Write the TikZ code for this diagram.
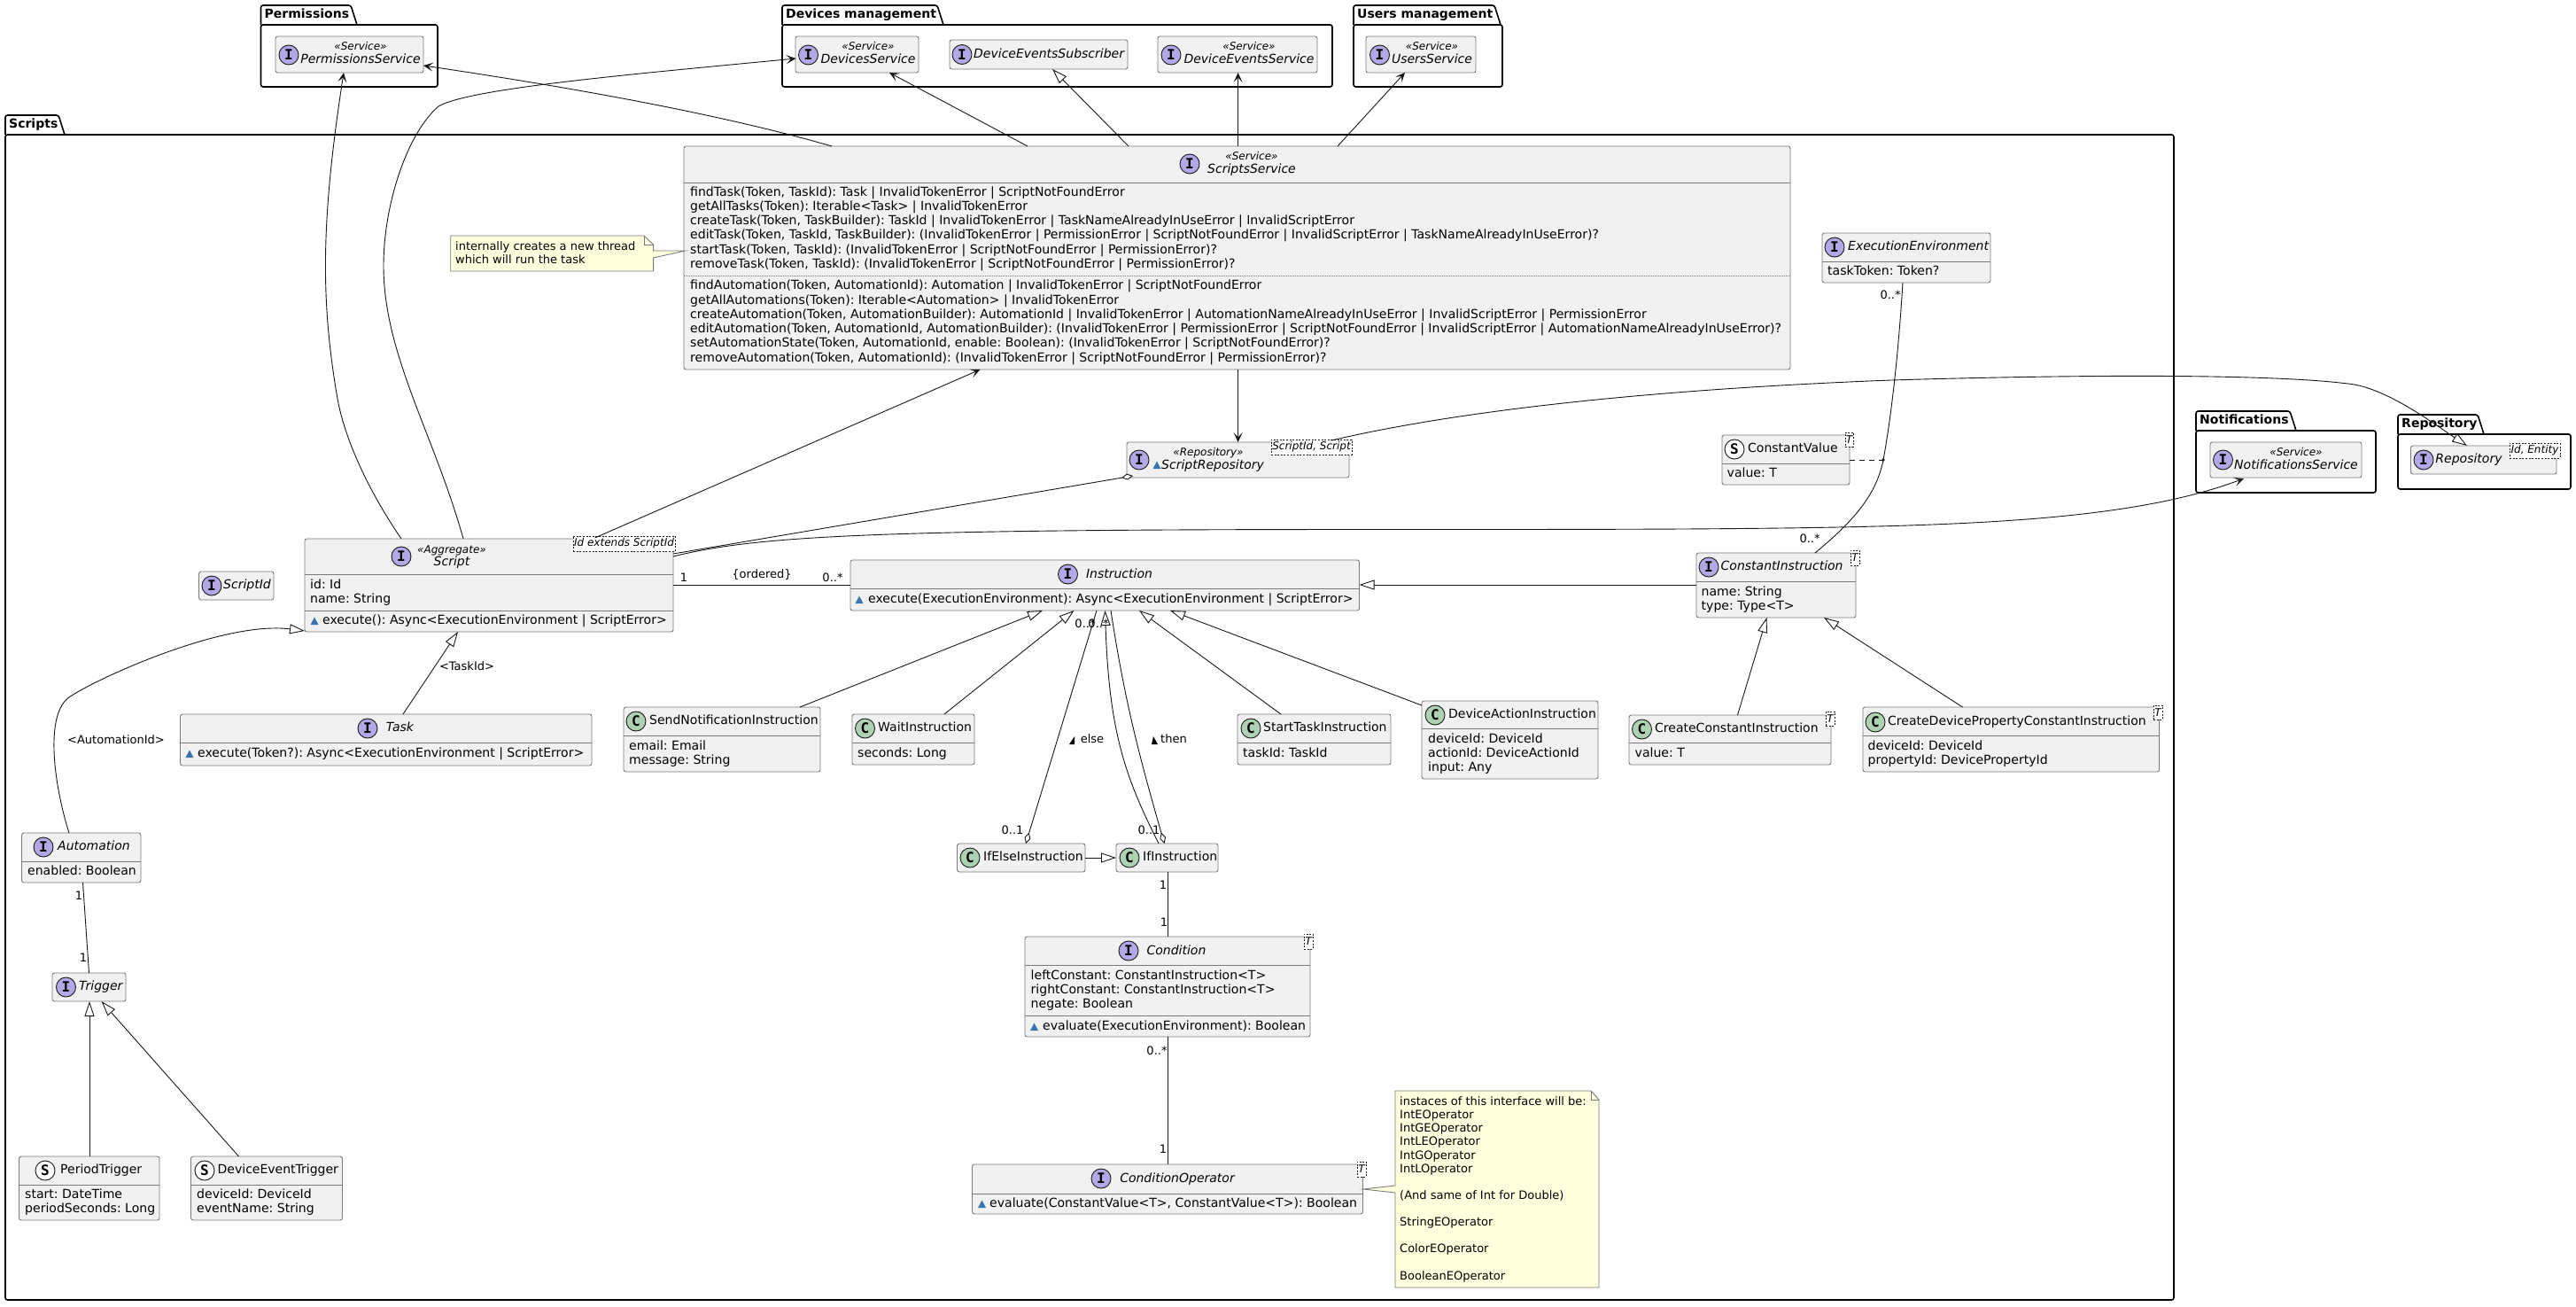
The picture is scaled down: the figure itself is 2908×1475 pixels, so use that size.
\documentclass[tikz,border=0pt]{standalone}
\usepackage{fontspec}
\setmainfont{DejaVu Sans}
\newfontfamily\iconfont{DejaVu Sans Mono}[BoldFont={DejaVu Sans Mono Bold}]
\usetikzlibrary{arrows.meta,calc}
\frenchspacing
\definecolor{boxf}{HTML}{F1F1F1}
\definecolor{boxc}{HTML}{7A7A7A}
\definecolor{linec}{HTML}{181818}
\definecolor{notef}{HTML}{FEFFDD}
\definecolor{ifill}{HTML}{B4A7E5}
\definecolor{cfill}{HTML}{ADD1B2}
\definecolor{visf}{HTML}{3A74B0}
\newcommand\fs[1]{\fontsize{#1}{#1}\selectfont}
\tikzset{
  x=1pt,y=-1pt,
  umlbox/.style={draw=boxc,fill=boxf,line width=.9pt,rounded corners=2.5pt,inner sep=0,outer sep=0,anchor=north west},
  notebox/.style={draw=boxc,fill=notef,line width=.9pt},
  genbox/.style={draw=linec,fill=white,line width=.7pt,dash pattern=on 2pt off 1.6pt,inner sep=0,outer sep=0,anchor=north west,font=\fs{12}\itshape},
  iconb/.style={circle,draw=linec,line width=.9pt,minimum size=22pt,inner sep=0,font=\iconfont\bfseries\fs{16}},
  member/.style={anchor=west,inner sep=0,text height=10pt,text depth=3pt,font=\fs{14.05}},
  notetxt/.style={member,font=\fs{13}},
  head/.style={anchor=center,inner sep=0,text height=10pt,text depth=3pt,font=\fs{14}\itshape},
  headl/.style={head,anchor=west},
  plainhead/.style={anchor=west,inner sep=0,text height=10pt,text depth=3pt,font=\fs{14}},
  stereo/.style={anchor=center,inner sep=0,text height=9pt,text depth=2.5pt,font=\fs{12}\itshape},
  lab/.style={anchor=center,inner sep=0,text height=9.5pt,text depth=2.5pt,font=\fs{13}},
  pkgline/.style={draw=black,line width=1.6pt,rounded corners=2.5pt},
  pkgt/.style={anchor=west,inner sep=0,text height=10pt,text depth=3pt,font=\fs{14}\bfseries},
  sepline/.style={draw=boxc,line width=.9pt},
  plainc/.style={draw=linec,line width=.9pt},
  assoc/.style={plainc,-{Stealth[length=11pt,width=10pt,inset=5.5pt]}},
  gener/.style={plainc,-{Triangle[open,fill=white,length=17pt,width=11pt]}},
  aggr/.style={plainc,-{Diamond[open,fill=white,length=13pt,width=7pt]}},
}
\newcount\tc
\newcommand\ubox[5]{\node[umlbox,minimum width={(#4-#2)*1pt},minimum height={(#5-#3)*1pt}] (#1) at (#2,#3) {};}
\newcommand\gen[6]{\node[genbox,minimum width={(#4-#2)*1pt},minimum height={(#5-#3)*1pt}] (#1) at (#2,#3) {#6};}
\newcommand\sepl[2]{\draw[sepline] (#1.west |- 0,#2) -- (#1.east |- 0,#2);}
\newcommand\ico[5]{\node[iconb,fill=#4] (#1) at (#2,#3) {#5};}
\newcommand\mem[3]{\global\advance\tc by 1 \node[member] (t\the\tc) at (#1,#2) {#3};}
\newcommand\nt[3]{\global\advance\tc by 1 \node[notetxt] (t\the\tc) at (#1,#2) {#3};}
\newcommand\hd[3]{\global\advance\tc by 1 \node[head] (t\the\tc) at (#1,#2) {#3};}
\newcommand\hdl[3]{\global\advance\tc by 1 \node[headl] (t\the\tc) at (#1,#2) {#3};}
\newcommand\phd[3]{\global\advance\tc by 1 \node[plainhead] (t\the\tc) at (#1,#2) {#3};}
\newcommand\ste[3]{\global\advance\tc by 1 \node[stereo] (t\the\tc) at (#1,#2) {#3};}
\newcommand\lbl[3]{\global\advance\tc by 1 \node[lab] (t\the\tc) at (#1,#2) {#3};}
\newcommand\vis[2]{\fill[visf] (#1-4.5,#2+4) -- (#1,#2-4.5) -- (#1+4.5,#2+4) -- cycle;}
\newcommand\pkg[8]{% name x0 tabtop tabright bodytop x1 y1 title
  \draw[pkgline] (#2,#5) -- (#2,#3) -- (#4,#3) -- (#4+7,#5);
  \draw[pkgline] (#2,#5) -- (#6,#5) -- (#6,#7) -- (#2,#7) -- cycle;
  \node[pkgt] (#1) at (#2+4,{(#3+#5)/2}) {#8};}
\begin{document}
\begin{tikzpicture}
\useasboundingbox (0,0) rectangle (2908,1475);
\fill[white] (0,0) rectangle (2908,1475);
% packages
\pkg{pPerm}{294.5}{6}{396}{28}{494}{98}{Permissions}
\pkg{pDev}{883}{6}{1058}{28}{1504}{98}{Devices management}
\pkg{pUsers}{1528}{6}{1687}{28}{1696}{98}{Users management}
\pkg{pScripts}{6}{130}{66}{152}{2454}{1467}{Scripts}
\pkg{pNotif}{2479}{464}{2585}{486}{2682}{556}{Notifications}
\pkg{pRepo}{2707}{468}{2797}{490}{2902}{552}{Repository}
% outer classes
\ubox{perm}{311}{41}{478}{82}
\ico{permI}{326}{62}{ifill}{I}
\ste{407}{53}{«Service»}\hd{407}{68}{PermissionsService}
\ubox{devs}{898}{41}{1037}{82}
\ico{devsI}{912.5}{62}{ifill}{I}
\ste{980}{53}{«Service»}\hd{980}{68}{DevicesService}
\ubox{subs}{1072}{45}{1273}{78}
\ico{subsI}{1086}{61.5}{ifill}{I}
\hdl{1099}{61.5}{DeviceEventsSubscriber}
\ubox{evs}{1307}{41}{1487}{82}
\ico{evsI}{1322}{62}{ifill}{I}
\ste{1410}{53}{«Service»}\hd{1410}{68}{DeviceEventsService}
\ubox{users}{1542}{41}{1666}{82}
\ico{usersI}{1557.5}{62}{ifill}{I}
\ste{1616.5}{53}{«Service»}\hd{1616.5}{68}{UsersService}
\ubox{notif}{2495}{499}{2666}{539}
\ico{notifI}{2509.5}{519}{ifill}{I}
\ste{2592}{511}{«Service»}\hd{2592}{526}{NotificationsService}
\ubox{repo}{2721.5}{503}{2886}{535}
\ico{repoI}{2736}{519}{ifill}{I}
\hd{2787}{519}{Repository}
\gen{repoG}{2833}{500}{2890}{517}{Id, Entity}
% ScriptsService
\ubox{svc}{772}{165}{2021}{417}
\sepl{svc}{206}
\draw[boxc,line width=.9pt,dash pattern=on 1pt off 1pt] (svc.west |- 0,311) -- (svc.east |- 0,311);
\ico{svcI}{1343}{185}{ifill}{I}
\ste{1413}{177}{«Service»}\hd{1413}{192}{ScriptsService}
\mem{779}{218}{findTask(Token, TaskId): Task | InvalidTokenError | ScriptNotFoundError}
\mem{779}{234}{getAllTasks(Token): Iterable<Task> | InvalidTokenError}
\mem{779}{250}{createTask(Token, TaskBuilder): TaskId | InvalidTokenError | TaskNameAlreadyInUseError | InvalidScriptError}
\mem{779}{266}{editTask(Token, TaskId, TaskBuilder): (InvalidTokenError | PermissionError | ScriptNotFoundError | InvalidScriptError | TaskNameAlreadyInUseError)?}
\mem{779}{283}{startTask(Token, TaskId): (InvalidTokenError | ScriptNotFoundError | PermissionError)?}
\mem{779}{299}{removeTask(Token, TaskId): (InvalidTokenError | ScriptNotFoundError | PermissionError)?}
\mem{779}{323}{findAutomation(Token, AutomationId): Automation | InvalidTokenError | ScriptNotFoundError}
\mem{779}{340}{getAllAutomations(Token): Iterable<Automation> | InvalidTokenError}
\mem{779}{356}{createAutomation(Token, AutomationBuilder): AutomationId | InvalidTokenError | AutomationNameAlreadyInUseError | InvalidScriptError | PermissionError}
\mem{779}{372}{editAutomation(Token, AutomationId, AutomationBuilder): (InvalidTokenError | PermissionError | ScriptNotFoundError | InvalidScriptError | AutomationNameAlreadyInUseError)?}
\mem{779}{388}{setAutomationState(Token, AutomationId, enable: Boolean): (InvalidTokenError | ScriptNotFoundError)?}
\mem{779}{405}{removeAutomation(Token, AutomationId): (InvalidTokenError | ScriptNotFoundError | PermissionError)?}
% note on service
\draw[notebox] (508.7,266) -- (727,266) -- (737.6,276) -- (737.6,283) -- (773.5,283) -- (737.6,291) -- (737.6,306) -- (508.7,306) -- cycle;
\draw[boxc,line width=.9pt] (727,266) -- (727,276) -- (737.6,276);
\nt{514}{279}{internally creates a new thread}
\nt{514}{294}{which will run the task}
% ExecutionEnvironment
\ubox{env}{2057}{263}{2247}{319}
\sepl{env}{295}
\ico{envI}{2071}{279}{ifill}{I}
\hdl{2086}{279}{ExecutionEnvironment}
\mem{2063}{307}{taskToken: Token?}
% ScriptRepository
\ubox{srepo}{1272}{499}{1523}{539}
\ico{srepoI}{1286}{519}{ifill}{I}
\ste{1364}{511}{«Repository»}
\vis{1306}{525}
\hdl{1311}{526}{ScriptRepository}
\gen{srepoG}{1435}{496}{1526}{513}{ScriptId, Script}
% ConstantValue
\ubox{cval}{1944}{491}{2088}{547}
\sepl{cval}{523}
\ico{cvalI}{1958}{507}{white}{S}
\phd{1973}{507}{ConstantValue}
\mem{1949.5}{535}{value: T}
\gen{cvalG}{2083}{488}{2092}{504}{T}
% ScriptId
\ubox{sid}{224.5}{645}{309}{677}
\ico{sidI}{239}{661}{ifill}{I}
\hd{279}{661}{ScriptId}
% Script
\ubox{script}{344}{608}{760}{713}
\sepl{script}{648}\sepl{script}{689}
\ico{scriptI}{453}{628}{ifill}{I}
\ste{510}{621}{«Aggregate»}\hd{510}{635}{Script}
\mem{350}{661}{id: Id}
\mem{350}{677}{name: String}
\vis{355}{701}
\mem{364}{701}{execute(): Async<ExecutionEnvironment | ScriptError>}
\gen{scriptG}{647}{605}{762}{622}{Id extends ScriptId}
% Instruction
\ubox{instr}{960}{632}{1534.5}{689}
\sepl{instr}{664}
\ico{instrI}{1205.5}{648}{ifill}{I}
\hd{1263.5}{649}{Instruction}
\vis{970}{677}
\mem{980}{677}{execute(ExecutionEnvironment): Async<ExecutionEnvironment | ScriptError>}
% ConstantInstruction
\ubox{cinstr}{1915}{624}{2095}{697}
\sepl{cinstr}{656}
\ico{cinstrI}{1929}{640}{ifill}{I}
\hdl{1942.5}{640}{ConstantInstruction}
\mem{1920.5}{669}{name: String}
\mem{1920.5}{685}{type: Type<T>}
\gen{cinstrG}{2089}{621}{2099}{638}{T}
% Task
\ubox{task}{203.5}{806}{668}{864}
\sepl{task}{838}
\ico{taskI}{415}{822}{ifill}{I}
\hd{451.5}{822}{Task}
\vis{214}{851}
\mem{223}{851}{execute(Token?): Async<ExecutionEnvironment | ScriptError>}
% SendNotification
\ubox{send}{704}{798}{926}{871}
\sepl{send}{830}
\ico{sendI}{718}{814}{cfill}{C}
\phd{733}{814}{SendNotificationInstruction}
\mem{710}{843}{email: Email}
\mem{710}{859}{message: String}
% Wait
\ubox{wait}{962}{806}{1100}{863}
\sepl{wait}{838}
\ico{waitI}{976.5}{822}{cfill}{C}
\phd{991}{822}{WaitInstruction}
\mem{968}{851}{seconds: Long}
% StartTask
\ubox{start}{1397}{806}{1570}{863}
\sepl{start}{838}
\ico{startI}{1412}{822}{cfill}{C}
\phd{1426}{822}{StartTaskInstruction}
\mem{1403}{851}{taskId: TaskId}
% DeviceAction
\ubox{devact}{1605}{791}{1804}{879}
\sepl{devact}{822}
\ico{devactI}{1620}{807}{cfill}{C}
\phd{1635}{807}{DeviceActionInstruction}
\mem{1612}{835}{deviceId: DeviceId}
\mem{1612}{851}{actionId: DeviceActionId}
\mem{1612}{867}{input: Any}
% CreateConstant
\ubox{ccons}{1839}{807}{2067}{863}
\sepl{ccons}{838}
\ico{cconsI}{1853.5}{823}{cfill}{C}
\phd{1868}{823}{CreateConstantInstruction}
\mem{1845.5}{851}{value: T}
\gen{cconsG}{2061}{803}{2071}{819}{T}
% CreateDeviceProperty
\ubox{cdev}{2103}{798}{2437.5}{871}
\sepl{cdev}{830}
\ico{cdevI}{2117}{815}{cfill}{C}
\phd{2131}{815}{CreateDevicePropertyConstantInstruction}
\mem{2108.5}{843}{deviceId: DeviceId}
\mem{2108.5}{859}{propertyId: DevicePropertyId}
\gen{cdevG}{2431}{796}{2441}{812}{T}
% If classes
\ubox{ifelse}{1080.5}{952}{1225}{984}
\ico{ifelseI}{1095}{968}{cfill}{C}
\phd{1110}{968}{IfElseInstruction}
\ubox{ifi}{1260}{952}{1375}{984}
\ico{ifiI}{1275}{968}{cfill}{C}
\phd{1290}{968}{IfInstruction}
% Condition
\ubox{cond}{1157}{1057}{1479}{1170}
\sepl{cond}{1089}\sepl{cond}{1146}
\ico{condI}{1274}{1073}{ifill}{I}
\hd{1328}{1074}{Condition}
\mem{1163.5}{1102}{leftConstant: ConstantInstruction<T>}
\mem{1163.5}{1118}{rightConstant: ConstantInstruction<T>}
\mem{1163.5}{1134}{negate: Boolean}
\vis{1167.5}{1159}
\mem{1177}{1159}{evaluate(ExecutionEnvironment): Boolean}
\gen{condG}{1472}{1054}{1482}{1071}{T}
% ConditionOperator
\ubox{cop}{1097.5}{1314}{1538.5}{1370}
\sepl{cop}{1347}
\ico{copI}{1243}{1330}{ifill}{I}
\hd{1329}{1331}{ConditionOperator}
\vis{1108.5}{1359}
\mem{1117}{1359}{evaluate(ConstantValue<T>, ConstantValue<T>): Boolean}
\gen{copG}{1532}{1311}{1542}{1328}{T}
% note on operator
\draw[notebox] (1575,1231) -- (1796,1231) -- (1805,1241) -- (1805,1453) -- (1575,1453) -- (1575,1346) -- (1539,1342) -- (1575,1338) -- cycle;
\draw[boxc,line width=.9pt] (1796,1231) -- (1796,1241) -- (1805,1241);
\nt{1580}{1244}{instaces of this interface will be:}
\nt{1580}{1259}{IntEOperator}
\nt{1580}{1274}{IntGEOperator}
\nt{1580}{1289}{IntLEOperator}
\nt{1580}{1305}{IntGOperator}
\nt{1580}{1320}{IntLOperator}
\nt{1580}{1350}{(And same of Int for Double)}
\nt{1580}{1380}{StringEOperator}
\nt{1580}{1410}{ColorEOperator}
\nt{1580}{1441}{BooleanEOperator}
% Automation
\ubox{auto}{24.5}{940}{159}{996}
\sepl{auto}{972}
\ico{autoI}{49}{956}{ifill}{I}
\hdl{65}{956}{Automation}
\mem{31}{984}{enabled: Boolean}
% Trigger
\ubox{trig}{59}{1098}{142}{1130}
\ico{trigI}{74.5}{1114}{ifill}{I}
\hdl{89}{1114}{Trigger}
% PeriodTrigger
\ubox{period}{21.5}{1305}{180}{1377}
\sepl{period}{1337}
\ico{periodI}{51}{1321}{white}{S}
\phd{68}{1321}{PeriodTrigger}
\mem{28}{1349}{start: DateTime}
\mem{28}{1365}{periodSeconds: Long}
% DeviceEventTrigger
\ubox{devt}{215.5}{1305}{386.5}{1377}
\sepl{devt}{1337}
\ico{devtI}{231}{1321}{white}{S}
\phd{245.5}{1321}{DeviceEventTrigger}
\mem{222}{1349}{deviceId: DeviceId}
\mem{222}{1365}{eventName: String}
% connectors
\draw[assoc] ($(script.north west)+(109,0)$) .. controls (420,560) and (390,500) .. (381,450) .. controls (362,340) and (362,250) .. ($(perm.south west)+(77,0)$);
\draw[assoc] ($(script.north west)+(179,0)$) .. controls (490,490) and (433,400) .. (433,300) .. controls (433,230) and (460,150) .. (495,120) .. controls (530,100) and (700,85) .. ($(devs.north west)+(0.5,25)$);
\draw[assoc] ($(svc.north west)+(167,0)$) .. controls (800,125) and (620,95) .. ($(perm.north east)+(0,33)$);
\draw[assoc] ($(svc.north west)+(388,0)$) -- ($(devs.south west)+(106,0)$);
\draw[gener] ($(svc.north west)+(502,0)$) -- ($(subs.south west)+(116,0)$);
\draw[assoc] ($(svc.north west)+(625.6,0)$) -- ($(evs.south west)+(90.6,0)$);
\draw[assoc] ($(svc.north west)+(738,0)$) -- ($(users.south west)+(44,0)$);
\draw[assoc] ($(scriptG.north west)+(24.5,2)$) -- ($(svc.south west)+(334.5,0)$);
\draw[assoc] ($(svc.south west)+(625.6,0)$) -- ($(srepo.north west)+(125.6,0)$);
\draw[gener] ($(srepoG.north west)+(68,1)$) .. controls (1640,465) and (1850,440) .. (2135,429) .. controls (2300,424) and (2560,420) .. (2658,434) .. controls (2700,442) and (2750,480) .. ($(repoG.north west)+(-48,3)$);
\draw[aggr] ($(script.north east)+(0,17)$) -- ($(srepo.south west)+(7,-2)$);
\draw[assoc] ($(script.north east)+(0,20)$) .. controls (840,608) and (950,600) .. (1320,598) .. controls (1500,597) and (1700,598) .. (1900,597) .. controls (2200,595) and (2400,590) .. ($(notif.south west)+(38,1)$);
\draw[plainc] (script.east |- 0,660) -- (instr.west |- 0,660);
\lbl{772}{653}{1}\lbl{860}{649}{\{ordered\}}\lbl{940}{653}{0..*}
\draw[gener] (cinstr.west |- 0,660) -- (instr.east |- 0,660);
\draw[gener] ($(auto.north west)+(53.5,0)$) .. controls (62,890) and (50,810) .. (76.5,788) .. controls (100,770) and (250,700) .. ($(script.south west)+(0,-1)$);
\lbl{131}{836}{<AutomationId>}
\draw[gener] ($(task.north west)+(251.5,0)$) -- ($(script.south west)+(173,0)$);
\lbl{527}{753}{<TaskId>}
\draw[gener] ($(send.north west)+(199,0)$) -- ($(instr.south west)+(217,0)$);
\draw[gener] ($(wait.north west)+(104,0)$) -- ($(instr.south west)+(252.5,0)$);
\draw[gener] ($(start.north west)+(49,0)$) -- ($(instr.south west)+(326,0)$);
\draw[gener] ($(devact.north west)+(0,5)$) -- ($(instr.south west)+(361,0)$);
\draw[aggr] ($(instr.south west)+(278,0)$) -- ($(ifelse.north west)+(77.5,0)$);
\draw[aggr] ($(instr.south west)+(294,0)$) .. controls (1268,780) and (1282,840) .. ($(ifi.north west)+(54.5,0)$);
\draw[gener] ($(ifi.north west)+(48,0)$) .. controls (1272,880) and (1252,830) .. ($(instr.south west)+(287.5,0)$);
\lbl{1225}{705}{0..*}\lbl{1240}{705}{0..*}
\lbl{1143}{938}{0..1}\lbl{1297}{938}{0..1}
\fill[black] (1213,831) -- (1207,840) -- (1213,840) -- cycle;
\lbl{1233}{835}{else}
\fill[black] (1302,831) -- (1300,840) -- (1307,840) -- cycle;
\lbl{1325}{835}{then}
\draw[gener] (ifelse.east) -- (ifi.west);
\draw[plainc] ($(ifi.south west)+(58.5,0)$) -- ($(cond.north west)+(161.5,0)$);
\lbl{1313}{1000}{1}\lbl{1314}{1042}{1}
\draw[plainc] ($(cond.south west)+(161.5,0)$) -- ($(cop.north west)+(221,0)$);
\lbl{1306}{1187}{0..*}\lbl{1313}{1298}{1}
\draw[plainc] ($(env.south west)+(91,0)$) .. controls (2143,400) and (2135,470) .. (2126,519) .. controls (2118,560) and (2090,590) .. ($(cinstr.north west)+(134,0)$);
\lbl{2134}{334}{0..*}\lbl{2043}{609}{0..*}
\draw[plainc,dash pattern=on 6pt off 5pt] (cval.east |- 0,519) -- (2126,519);
\fill[linec] (2126,519) circle (1.8);
\draw[gener] ($(ccons.north west)+(122.5,0)$) -- ($(cinstr.south west)+(79.5,0)$);
\draw[gener] ($(cdev.north west)+(112.5,0)$) -- ($(cinstr.south west)+(144,0)$);
\draw[plainc] ($(auto.south west)+(69,0)$) -- ($(trig.north west)+(41.5,0)$);
\lbl{89}{1012}{1}\lbl{94}{1082}{1}
\draw[gener] ($(period.north west)+(79.5,0)$) -- ($(trig.south west)+(42,0)$);
\draw[gener] ($(devt.north west)+(54,0)$) -- ($(trig.south west)+(55.5,0)$);
\end{tikzpicture}
\end{document}
